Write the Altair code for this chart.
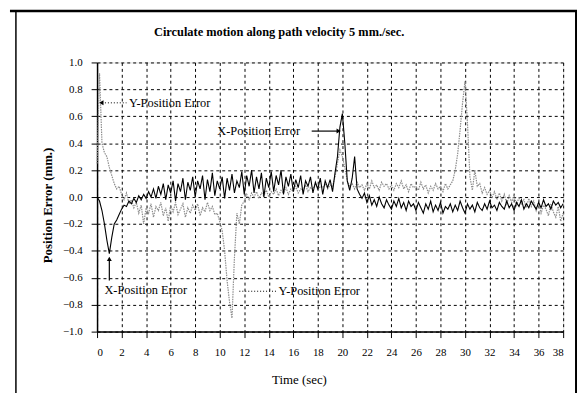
import altair as alt
import pandas as pd

TITLE = "Circulate motion along path velocity 5 mm./sec."
X_TITLE = "Time (sec)"
Y_TITLE = "Position Error (mm.)"
FONT = "Liberation Serif"

T_STEP = 0.2  # sampling interval of the recorded series (sec)

x_err = [
    0.00, -0.03, -0.10, -0.20, -0.32, -0.42, -0.30, -0.20, -0.17, -0.13,
    -0.09, -0.06, -0.07, -0.03, -0.05, -0.01, -0.04, 0.01, -0.02, 0.02,
    -0.01, 0.04, 0.00, 0.06, -0.01, 0.08, 0.02, 0.10, -0.02, 0.09,
    0.03, 0.12, -0.03, 0.10, 0.04, 0.14, -0.02, 0.11, 0.05, 0.15,
    0.00, 0.12, 0.06, 0.16, -0.02, 0.13, 0.04, 0.18, 0.01, 0.12,
    0.06, 0.15, -0.01, 0.14, 0.05, 0.17, 0.03, 0.12, 0.07, 0.19,
    0.02, 0.16, 0.08, 0.20, 0.03, 0.15, 0.06, 0.18, 0.00, 0.14,
    0.07, 0.19, 0.04, 0.16, 0.09, 0.20, 0.02, 0.15, 0.08, 0.17,
    0.04, 0.13, 0.07, 0.16, 0.02, 0.12, 0.08, 0.15, 0.03, 0.11,
    0.06, 0.14, 0.02, 0.12, 0.07, 0.13, 0.04, 0.18, 0.30, 0.52,
    0.62, 0.40, 0.12, 0.05, 0.14, 0.30, 0.06, 0.02, -0.01, 0.03,
    -0.04, 0.01, -0.06, -0.02, -0.07, 0.00, -0.05, -0.08, -0.02, -0.06,
    -0.09, -0.03, -0.07, -0.01, -0.08, -0.04, -0.10, -0.03, -0.07, -0.05,
    -0.10, -0.04, -0.08, -0.12, -0.05, -0.09, -0.03, -0.11, -0.06, -0.10,
    -0.04, -0.12, -0.07, -0.09, -0.05, -0.11, -0.06, -0.10, -0.03, -0.08,
    -0.12, -0.05, -0.09, -0.06, -0.11, -0.04, -0.08, -0.10, -0.05, -0.09,
    -0.03, -0.08, -0.06, -0.10, -0.04, -0.07, -0.09, -0.03, -0.08, -0.05,
    -0.10, -0.04, -0.07, -0.02, -0.09, -0.05, -0.08, -0.03, -0.06, -0.09,
    -0.04, -0.08, -0.02, -0.07, -0.05, -0.09, -0.03, -0.06, -0.04, -0.08,
    -0.05,
]

y_err = [
    0.25, 0.92, 0.40, 0.33, 0.30, 0.22, 0.16, 0.10, 0.06, 0.08,
    0.02, -0.02, 0.03, -0.05, -0.02, -0.08, -0.04, -0.12, -0.06, -0.20,
    -0.08, -0.12, -0.05, -0.15, -0.07, -0.10, -0.04, -0.14, -0.08, -0.18,
    -0.06, -0.11, -0.04, -0.13, -0.09, -0.05, -0.15, -0.08, -0.12, -0.06,
    -0.10, -0.05, -0.14, -0.08, -0.11, -0.04, -0.10, -0.07, -0.13, -0.12,
    -0.18, -0.25, -0.40, -0.62, -0.78, -0.90, -0.45, -0.12, -0.20, -0.06,
    -0.03, 0.02, -0.02, 0.03, 0.00, 0.04, -0.01, 0.03, 0.01, 0.05,
    0.00, 0.04, 0.02, 0.06, 0.01, 0.05, 0.03, 0.07, 0.02, 0.06,
    0.04, 0.08, 0.03, 0.06, 0.05, 0.09, 0.04, 0.07, 0.06, 0.10,
    0.05, 0.08, 0.07, 0.10, 0.06, 0.09, 0.08, 0.15, 0.25, 0.35,
    0.30, 0.22, 0.12, 0.08, 0.10, 0.06, 0.11, 0.07, 0.09, 0.05,
    0.10, 0.06, 0.12, 0.07, 0.09, 0.05, 0.11, 0.08, 0.10, 0.06,
    0.09, 0.05, 0.10, 0.07, 0.12, 0.06, 0.09, 0.04, 0.10, 0.07,
    0.08, 0.05, 0.11, 0.06, 0.09, 0.03, 0.08, 0.05, 0.10, 0.06,
    0.08, 0.04, 0.10, 0.06, 0.09, 0.12, 0.20, 0.32, 0.50, 0.70,
    0.86, 0.55, 0.15, 0.05, 0.20, 0.08, 0.10, 0.03, 0.07, 0.02,
    0.05, 0.00, 0.04, -0.02, 0.03, -0.03, 0.02, -0.05, 0.01, -0.04,
    0.02, -0.06, 0.00, -0.05, -0.02, -0.08, -0.01, -0.07, -0.03, -0.10,
    -0.04, -0.12, -0.06, -0.09, -0.14, -0.05, -0.11, -0.15, -0.07, -0.18,
    -0.12,
]

x_ticks = list(range(0, 39, 2))
y_ticks = [-1.0, -0.8, -0.6, -0.4, -0.2, 0.0, 0.2, 0.4, 0.6, 0.8, 1.0]

# annotations
ann_text = ["Y-Position Error", "X-Position Error", "X-Position Error", "Y-Position Error"]
ann_t = [2.6, 9.8, 0.6, 14.8]
ann_v = [0.70, 0.49, -0.69, -0.70]

# arrow leaders: start / end in data units, style
arr_t1 = [0.4, 17.5, 1.0, 11.6]
arr_t2 = [2.4, 19.6, 1.0, 14.6]
arr_v1 = [0.70, 0.49, -0.62, -0.70]
arr_v2 = [0.70, 0.49, -0.47, -0.70]
arr_dotted = [True, False, False, True]

head_t = [0.35, 19.7, 1.0]
head_v = [0.70, 0.49, -0.46]
head_shape = ["triangle-left", "triangle-right", "triangle-up"]

time = [round(i * T_STEP, 1) for i in range(len(x_err))]
df = pd.DataFrame({"t": time, "x": x_err, "y": y_err})

xs = alt.Scale(domain=[0, 38], nice=False, zero=False)
ys = alt.Scale(domain=[-1, 1], nice=False, zero=False)

x_axis = alt.Axis(
    values=x_ticks, tickCount=len(x_ticks), labelOverlap=False, format="d",
    grid=True, gridColor="black", gridDash=[3, 3],
    gridWidth=1, gridOpacity=1, domainColor="black", domainWidth=1.5,
    tickColor="black", tickSize=6, labelFont=FONT, labelFontSize=11,
    labelColor="black", labelPadding=9, title=X_TITLE, titleFont=FONT,
    titleFontSize=13, titleFontWeight="normal", titleColor="black",
    titleX=204, titleY=48, titleBaseline="middle",
)
y_axis = alt.Axis(
    values=y_ticks, tickCount=len(y_ticks), labelOverlap=False, format=".1f",
    grid=True, gridColor="black", gridDash=[3, 3],
    gridWidth=1, gridOpacity=1, domainColor="black", domainWidth=1.5,
    tickColor="black", tickSize=6, labelFont=FONT, labelFontSize=11,
    labelColor="black", labelPadding=9, title=Y_TITLE, titleFont=FONT,
    titleFontSize=13, titleFontWeight="bold", titleColor="black",
    titleX=-50, titleY=144, titleBaseline="middle",
)

base = alt.Chart(df)
y_line = base.mark_line(color="#8c8c8c", strokeWidth=1.2, strokeDash=[1.5, 1]).encode(
    x=alt.X("t:Q", scale=xs, axis=x_axis),
    y=alt.Y("y:Q", scale=ys, axis=y_axis),
)
x_line = base.mark_line(color="black", strokeWidth=1.1).encode(
    x=alt.X("t:Q", scale=xs, axis=x_axis),
    y=alt.Y("x:Q", scale=ys, axis=y_axis),
)

ann_df = pd.DataFrame({"t": ann_t, "v": ann_v, "label": ann_text})
ann = alt.Chart(ann_df).mark_text(
    font=FONT, fontSize=12.5, color="black", align="left", baseline="middle"
).encode(x=alt.X("t:Q", scale=xs), y=alt.Y("v:Q", scale=ys), text="label:N")

arr_df = pd.DataFrame({"t1": arr_t1, "t2": arr_t2, "v1": arr_v1, "v2": arr_v2, "dotted": arr_dotted})
arr_solid = alt.Chart(arr_df).transform_filter("!datum.dotted").mark_rule(
    color="black", strokeWidth=1.2
).encode(x=alt.X("t1:Q", scale=xs), x2="t2:Q", y=alt.Y("v1:Q", scale=ys), y2="v2:Q")
arr_dot = alt.Chart(arr_df).transform_filter("datum.dotted").mark_rule(
    color="black", strokeWidth=1, strokeDash=[1, 2]
).encode(x=alt.X("t1:Q", scale=xs), x2="t2:Q", y=alt.Y("v1:Q", scale=ys), y2="v2:Q")

head_df = pd.DataFrame({"t": head_t, "v": head_v, "shape": head_shape})
heads = alt.Chart(head_df).mark_point(filled=True, color="black", size=25, opacity=1).encode(
    x=alt.X("t:Q", scale=xs), y=alt.Y("v:Q", scale=ys),
    shape=alt.Shape("shape:N", scale=None),
)

# chart title and outer picture frame
frame_df = pd.DataFrame({"label": [TITLE]})
title_mark = alt.Chart(frame_df).mark_text(
    font=FONT, fontSize=12.5, fontWeight="bold", color="black", align="center", baseline="middle"
).encode(x=alt.value(184), y=alt.value(-31), text="label:N")
frame_left = alt.Chart(frame_df).mark_rule(color="black", strokeWidth=1.5).encode(
    x=alt.value(-82), y=alt.value(-51), y2=alt.value(340))
frame_top = alt.Chart(frame_df).mark_rule(color="black", strokeWidth=2.5).encode(
    x=alt.value(-88), x2=alt.value(486), y=alt.value(-52))
frame_right = alt.Chart(frame_df).mark_rule(color="black", strokeWidth=2).encode(
    x=alt.value(484), y=alt.value(-52), y2=alt.value(340))

chart = alt.layer(
    y_line, x_line, arr_solid, arr_dot, heads, ann, title_mark,
    frame_left, frame_top, frame_right
).properties(
    width=471, height=272,
    autosize=alt.AutoSizeParams(type="none"),
    padding={"left": 90, "top": 53, "right": 14, "bottom": 60},
).configure_view(stroke="#aaaaaa", strokeWidth=1).configure(background="white")

chart.save("out.html", embed_options={"renderer": "svg", "actions": False})
